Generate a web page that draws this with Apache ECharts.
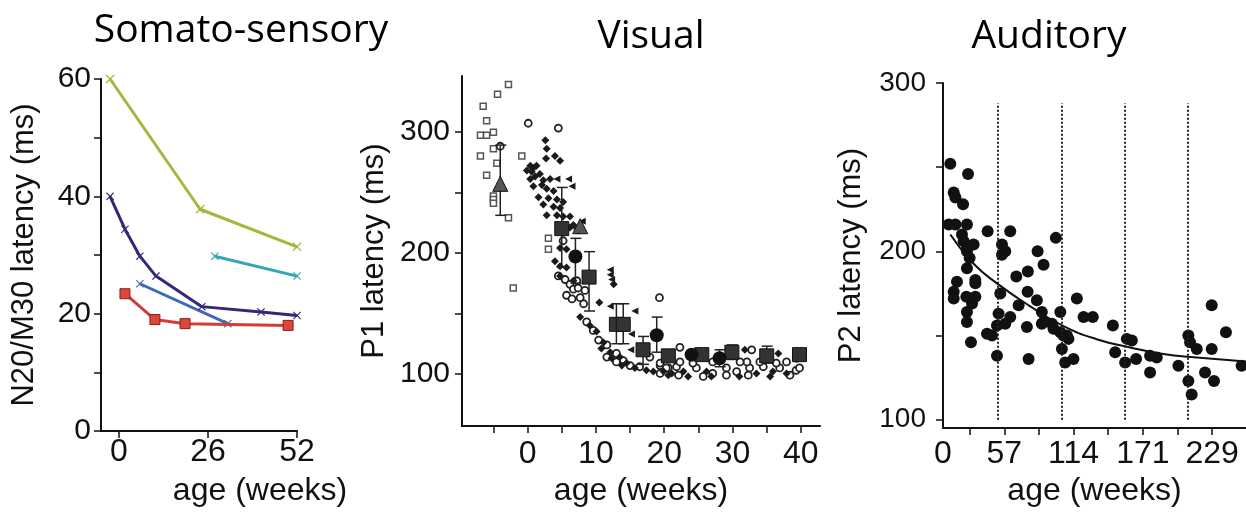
<!DOCTYPE html>
<html>
<head>
<meta charset="utf-8">
<title>Latency by age</title>
<script src="https://cdn.jsdelivr.net/npm/echarts@6/dist/echarts.min.js"></script>
<style>
  html, body { margin: 0; padding: 0; background: #fff; }
  #chart { width: 1246px; height: 512px; }
</style>
</head>
<body>
<div id="chart"></div>
<script>
// ---- somato-sensory: N20/M30 latency (ms) vs age (weeks)
var somaGreen = [[-2.6, 60], [23.7, 37.8], [52, 31.4]]
var somaPurple = [[-2.6, 40], [1.75, 34.4], [6.1, 29.8], [10.8, 26.4], [24.2, 21.2], [41.5, 20.3], [52, 19.7]]
var somaBlue = [[6.1, 25.1], [31.8, 18.3]]
var somaCyan = [[28, 29.8], [52, 26.4]]
var somaRed = [[1.75, 23.4], [10.5, 19.0], [19.3, 18.3], [49.4, 18.0]]
var somaXTicks = [0, 26, 52]
var somaYTicks = [0, 10, 20, 30, 40, 50, 60]
var somaYLabels = [0, 20, 40, 60]

// ---- visual: P1 latency (ms) vs age (weeks)
var visPreterm = [[-6.5, 321], [-6.0, 309], [-6.9, 297], [-6.0, 297], [-5.0, 299.5], [-4.4, 331], [-2.8, 339],
  [-5.0, 286], [-6.9, 280], [-4.5, 274], [-6.0, 264], [-5.0, 247], [-5.0, 244], [-5.0, 241], [-2.8, 229],
  [-0.85, 280], [-2.1, 171], [3.05, 212], [3.05, 203]]
var visDiamonds = [[2.6, 293], [2.8, 286], [2.7, 278], [4.0, 280], [4.75, 276],
  [0.4, 272], [0.85, 270], [1.3, 272], [-0.1, 268], [0.6, 267], [1.8, 265], [1.1, 263], [0.4, 261], [2.3, 260], [3.3, 261],
  [0.85, 255], [2.1, 256], [2.8, 253], [3.8, 251], [1.6, 246], [3.05, 245], [4.3, 244], [5.2, 242],
  [2.3, 240], [3.8, 238], [4.75, 237], [2.8, 231], [4.3, 231], [5.2, 230], [6.2, 230], [6.7, 223], [6.2, 221],
  [4.75, 204], [5.7, 203], [4.0, 193], [4.75, 189], [5.7, 188], [4.75, 181], [6.7, 177],
  [12.6, 174], [10.5, 159], [7.7, 147], [9.1, 140], [10.1, 135], [11.1, 126], [10.8, 121], [12.1, 118],
  [13.5, 114], [14.5, 109], [12.3, 113], [13.8, 107], [15.7, 105], [17.4, 103], [18.4, 102], [19.9, 102], [21.1, 100.5],
  [22.8, 102], [26.2, 102], [31.0, 98], [33.5, 100.5], [35.9, 102], [37.9, 100.5], [23.5, 98], [26.9, 98], [35.5, 98],
  [20.6, 99], [31.8, 120], [36.7, 117]]
var visCircles = [[-4.0, 288], [0.1, 307], [4.5, 303], [19.3, 163], [5.2, 210], [7.4, 219],
  [4.5, 181], [5.5, 178], [6.2, 174], [6.7, 170], [7.2, 177], [5.7, 165], [6.5, 162], [7.7, 163], [8.2, 158], [7.4, 171], [8.4, 169],
  [8.65, 143], [9.6, 136], [10.4, 128], [11.6, 124], [13.0, 117], [14.0, 111], [11.6, 114], [13.0, 110], [15.0, 107],
  [16.4, 106], [17.9, 114], [19.4, 107], [20.6, 105], [20.3, 105], [21.8, 106], [24.7, 105], [27.1, 100.5], [29.1, 105],
  [30.6, 102], [32.5, 105], [34.5, 106], [36.9, 105], [39.3, 103], [39.8, 105], [19.4, 100.5], [22.1, 99], [25.7, 98],
  [29.1, 99], [32.3, 99], [38.4, 99], [32.1, 110], [34.0, 110], [36.4, 109], [32.8, 120], [22.3, 122], [37.9, 110],
  [27.1, 110], [22.3, 110], [24.2, 109], [31.1, 110], [19.4, 109], [39.4, 113]]
var visTriangles = [[4.3, 261], [6.0, 261], [6.5, 255], [12.1, 186], [12.1, 182], [12.3, 178], [12.1, 156],
  [15.7, 152], [15.1, 120], [15.2, 133], [8.0, 226]]
var visMeanTri = [[-4.0, 257], [7.7, 222]]
var visMeanSq = [[5.0, 220], [9.0, 180], [13.0, 141], [14.0, 141], [16.9, 120], [20.6, 115], [25.5, 116], [29.9, 118], [35.0, 115], [39.8, 116]]
var visMeanCirc = [[7.0, 197], [18.9, 132], [24.0, 116], [28.1, 113]]
var visErr = [[-4.0, 231, 289], [5.0, 188, 254], [7.0, 175, 212], [9.0, 152, 201], [13.0, 125, 158], [14.0, 125, 158],
  [16.9, 108, 131], [18.9, 118, 147], [28.1, 106, 120], [29.9, 112, 124], [35.0, 109, 123]]
var visXTicks = [-5, 0, 5, 10, 15, 20, 25, 30, 35, 40]
var visXLabels = [0, 10, 20, 30, 40]
var visYTicks = [100, 150, 200, 250, 300]
var visYLabels = [100, 200, 300]

// ---- auditory: P2 latency (ms) vs age (weeks)
var audPoints = [[12.6, 252], [27.2, 246], [15.4, 235], [16.8, 232], [23.1, 228], [11.3, 216], [16.8, 216], [26.3, 216],
  [22.2, 210], [23.6, 206], [31.8, 204], [26.3, 200], [28.5, 196], [26.3, 190], [18.1, 182], [33.2, 181], [15.4, 176],
  [15.4, 172], [25.8, 173], [33.2, 173], [26.3, 164], [26.3, 158], [29.6, 146], [26.4, 202], [33.2, 183], [30.5, 169],
  [43.3, 212], [61.9, 212], [55.1, 204], [55.1, 198], [57.8, 200], [53.7, 175], [52.3, 163], [61.9, 161], [57.8, 157],
  [51.0, 156], [42.8, 151], [46.9, 150], [51.0, 138], [68.8, 168], [66.9, 185], [76.4, 188], [84.4, 200], [89.3, 192],
  [76.2, 176], [83.8, 171], [87.9, 164], [75.6, 155], [77.0, 136], [87.9, 157], [99.4, 208], [103.1, 164], [96.2, 157],
  [103.1, 152], [108.5, 150], [104.4, 142], [107.1, 134], [113.9, 136], [89.3, 158], [97.5, 154], [105.7, 150], [109.8, 148],
  [116.7, 172], [122.2, 161], [129.8, 161], [146.3, 156], [148.2, 140], [157.8, 148], [161.9, 147], [156.4, 134],
  [165.4, 136], [176.9, 138], [182.4, 137], [176.9, 128], [200.2, 132], [208.4, 150], [209.8, 146], [215.3, 142],
  [208.4, 123], [211.1, 115], [227.6, 168], [227.6, 142], [222.1, 128], [229.5, 123], [239.3, 152], [252.2, 132]]
var audFit = [[12.6, 210], [31.8, 192.6], [51, 181], [78.4, 167.3], [105.7, 155.6], [133, 147.8], [160.5, 142.9],
  [187.8, 139], [215.3, 137], [255.8, 134.5]]
var audYearLines = [52, 104, 156, 208]
var audXTicks = [28.5, 57, 85.5, 114, 142.5, 171, 199.5, 228]
var audXLabels = [6.6, 57, 114, 171, 228]
var audXText = ['0', '57', '114', '171', '229']
var audYTicks = [100, 150, 200, 250, 300]
var audYLabels = [100, 200, 300]

var FONT = 'Liberation Sans, Arial, sans-serif'
var INK = '#111'

function xAxisOf(gridIndex, min, max, ticks, labels, fmt, margin, nameGap, namePad) {
  return {
    type: 'value',
    gridIndex: gridIndex,
    min: min,
    max: max,
    name: 'age (weeks)',
    nameLocation: 'middle',
    nameGap: nameGap,
    nameTextStyle: { fontFamily: FONT, fontSize: 32, color: INK, padding: namePad },
    axisLine: { onZero: false, lineStyle: { color: INK, width: 2 } },
    axisTick: { customValues: ticks, length: 7, lineStyle: { color: INK, width: 1.5 } },
    axisLabel: { customValues: labels, formatter: fmt, margin: margin, fontFamily: FONT, fontSize: 32, color: INK },
    splitLine: { show: false }
  }
}

function yAxisOf(gridIndex, min, max, ticks, labels, name, nameGap, margin, fontSize) {
  return {
    type: 'value',
    gridIndex: gridIndex,
    min: min,
    max: max,
    name: name,
    nameLocation: 'middle',
    nameGap: nameGap,
    nameTextStyle: { fontFamily: FONT, fontSize: 31, color: INK },
    axisLine: { onZero: false, lineStyle: { color: INK, width: 2 } },
    axisTick: { customValues: ticks, length: 7, lineStyle: { color: INK, width: 1.5 } },
    axisLabel: { customValues: labels, margin: margin, fontFamily: FONT, fontSize: fontSize, color: INK },
    splitLine: { show: false }
  }
}

var crossSymbol = 'path://M0,1L1,0L5,4L9,0L10,1L6,5L10,9L9,10L5,6L1,10L0,9L4,5Z'

function somaLine(data, color, symbol, size) {
  return {
    type: 'line',
    xAxisIndex: 0,
    yAxisIndex: 0,
    data: data,
    symbol: symbol,
    symbolSize: size,
    lineStyle: { color: color, width: 3 },
    itemStyle: { color: color },
    z: 3
  }
}

function errorBars(params, api) {
  var x = api.value(0)
  var top = api.coord([x, api.value(2)])
  var bot = api.coord([x, api.value(1)])
  var style = { stroke: '#222', lineWidth: 1.5 }
  return {
    type: 'group',
    children: [
      { type: 'line', shape: { x1: top[0], y1: top[1], x2: bot[0], y2: bot[1] }, style: style },
      { type: 'line', shape: { x1: top[0] - 5, y1: top[1], x2: top[0] + 6, y2: top[1] }, style: style },
      { type: 'line', shape: { x1: bot[0] - 5, y1: bot[1], x2: bot[0] + 6, y2: bot[1] }, style: style }
    ]
  }
}

var chart = echarts.init(document.getElementById('chart'), null, { renderer: 'canvas' })

chart.setOption({
  animation: false,
  backgroundColor: '#fff',
  title: [
    { text: 'Somato-sensory', left: 236, top: 6, textAlign: 'center', textStyle: { fontFamily: 'Open Sans', fontSize: 39, fontWeight: 'normal', color: '#000' } },
    { text: 'Visual', left: 646, top: 12, textAlign: 'center', textStyle: { fontFamily: 'Open Sans', fontSize: 39, fontWeight: 'normal', color: '#000' } },
    { text: 'Auditory', left: 1044, top: 12, textAlign: 'center', textStyle: { fontFamily: 'Open Sans', fontSize: 39, fontWeight: 'normal', color: '#000' } }
  ],
  grid: [
    { left: 101, top: 79, width: 196, height: 354 },
    { left: 462, top: 76, width: 358, height: 354 },
    { left: 943, top: 83, width: 303, height: 350 }
  ],
  xAxis: [
    xAxisOf(0, -5.25, 52, somaXTicks, somaXTicks, null, 5, 44, [0, 0, 0, 122]),
    xAxisOf(1, -9.6, 42.8, visXTicks, visXLabels, null, 12, 42, 0),
    xAxisOf(2, 6.6, 255.8, audXTicks, audXLabels, function (v) {
      return audXText[audXLabels.indexOf(v)]
    }, 10, 44, 0)
  ],
  yAxis: [
    yAxisOf(0, 0, 60, somaYTicks, somaYLabels, 'N20/M30 latency (ms)', 61, 10, 30),
    yAxisOf(1, 57, 346, visYTicks, visYLabels, 'P1 latency (ms)', 72, 12, 30),
    yAxisOf(2, 95, 300, audYTicks, audYLabels, 'P2 latency (ms)', 76, 17, 28)
  ],
  series: [
    somaLine(somaGreen, '#a3b83c', crossSymbol, 9),
    somaLine(somaPurple, '#35287a', crossSymbol, 8),
    somaLine(somaBlue, '#3f68b8', crossSymbol, 8),
    somaLine(somaCyan, '#34a6b6', crossSymbol, 8),
    {
      type: 'line',
      xAxisIndex: 0,
      yAxisIndex: 0,
      data: somaRed,
      symbol: 'rect',
      symbolSize: 10,
      lineStyle: { color: '#d63c36', width: 3 },
      itemStyle: { color: '#e0443c', borderColor: '#8a1f1a', borderWidth: 1 },
      z: 4
    },

    {
      type: 'scatter', xAxisIndex: 1, yAxisIndex: 1, data: visPreterm,
      symbol: 'rect', symbolSize: 6,
      itemStyle: { color: '#fff', borderColor: '#555', borderWidth: 1.5, opacity: 1 }
    },
    {
      type: 'scatter', xAxisIndex: 1, yAxisIndex: 1, data: visCircles,
      symbol: 'circle', symbolSize: 7,
      itemStyle: { color: '#fff', borderColor: '#222', borderWidth: 1.8, opacity: 1 }
    },
    {
      type: 'scatter', xAxisIndex: 1, yAxisIndex: 1, data: visDiamonds,
      symbol: 'diamond', symbolSize: 8,
      itemStyle: { color: '#1a1a1a', opacity: 1 }
    },
    {
      type: 'scatter', xAxisIndex: 1, yAxisIndex: 1, data: visTriangles,
      symbol: 'triangle', symbolRotate: 90, symbolSize: 7,
      itemStyle: { color: '#1a1a1a', opacity: 1 }
    },
    {
      type: 'custom', xAxisIndex: 1, yAxisIndex: 1, data: visErr,
      renderItem: errorBars,
      encode: { x: 0, y: [1, 2] },
      z: 4
    },
    {
      type: 'scatter', xAxisIndex: 1, yAxisIndex: 1, data: visMeanTri,
      symbol: 'triangle', symbolSize: 15,
      itemStyle: { color: '#555', borderColor: '#111', borderWidth: 1, opacity: 1 }, z: 5
    },
    {
      type: 'scatter', xAxisIndex: 1, yAxisIndex: 1, data: visMeanSq,
      symbol: 'rect', symbolSize: 14,
      itemStyle: { color: '#333', borderColor: '#111', borderWidth: 1, opacity: 1 }, z: 5
    },
    {
      type: 'scatter', xAxisIndex: 1, yAxisIndex: 1, data: visMeanCirc,
      symbol: 'circle', symbolSize: 14,
      itemStyle: { color: '#111', opacity: 1 }, z: 5
    },

    {
      type: 'scatter', xAxisIndex: 2, yAxisIndex: 2, data: audPoints,
      symbol: 'circle', symbolSize: 12,
      itemStyle: { color: '#111', opacity: 1 },
      markLine: {
        silent: true,
        symbol: 'none',
        label: { show: false },
        lineStyle: { color: '#222', type: 'dotted', width: 2 },
        data: audYearLines.map(function (w) {
          return [{ coord: [w, 100] }, { coord: [w, 288] }]
        })
      }
    },
    {
      type: 'line', xAxisIndex: 2, yAxisIndex: 2, data: audFit,
      smooth: true, symbol: 'none',
      lineStyle: { color: '#111', width: 2 }, z: 4
    }
  ]
})
</script>
</body>
</html>
